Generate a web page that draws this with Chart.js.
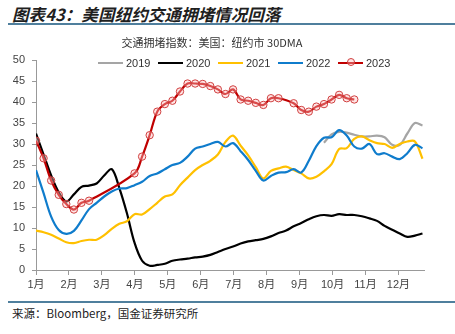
<!DOCTYPE html>
<html lang="zh">
<head>
<meta charset="UTF-8">
<title>美国纽约交通拥堵情况回落</title>
<script src="https://cdn.jsdelivr.net/npm/chart.js"></script>
<style>
  body { margin: 0; background: #fff; font-family: "Liberation Sans", "Noto Sans CJK SC", sans-serif; }
  #page { position: relative; width: 455px; height: 334px; overflow: hidden; }
  #title { position: absolute; left: 12px; top: 2px; font-size: 16.6px; font-weight: bold; font-style: italic; color: #1f1f1f; font-family: "Noto Sans CJK SC", sans-serif; white-space: nowrap; }
  .rule { position: absolute; left: 8px; right: 0; height: 2px; background: #4f7f9d; }
  #chartBox { position: absolute; left: 0; top: 28px; width: 455px; height: 268px; }
  #legend { position: absolute; left: 98px; top: 56px; display: flex; font-size: 11px; color: #333; }
  .item { width: 60px; display: flex; align-items: center; height: 14px; }
  .swatch { position: relative; width: 25px; height: 2.5px; margin-right: 3px; }
  .dot { position: absolute; left: 8.5px; top: -3.5px; width: 6px; height: 6px; border: 1px solid #d04040; border-radius: 50%; background: rgba(255, 190, 190, 0.4); }
  #source { position: absolute; left: 12px; top: 305px; font-size: 11.5px; color: #222; font-family: "Noto Sans CJK SC", sans-serif; white-space: nowrap; }
</style>
</head>
<body>
<div id="page">
  <div id="title">图表43：美国纽约交通拥堵情况回落</div>
  <div class="rule" style="top:23px"></div>
  <div id="chartBox"><canvas id="trafficChart"></canvas></div>
  <div id="legend"></div>
  <div class="rule" style="top:301px"></div>
  <div id="source">来源：Bloomberg，国金证券研究所</div>
</div>

<script>
// weekly index (0 = first week of Jan)
const weeks = Array.from({ length: 52 }, (_, i) => i);
const monthLabels = ['1月', '2月', '3月', '4月', '5月', '6月', '7月', '8月', '9月', '10月', '11月', '12月'];
const WEEKS_PER_MONTH = 52.18 / 12;

const years = ['2019', '2020', '2021', '2022', '2023'];
const colors = ['#a5a5a5', '#000000', '#ffc000', '#0f7ccc', '#c00000'];

const v2019 = [null, null, null, null, null, null, null, null, null, null,
  null, null, null, null, null, null, null, null, null, null,
  null, null, null, null, null, null, null, null, null, null,
  null, null, null, null, null, null, null, null, 30.3, 32.3,
  32.9, 32.7, 32.2, 31.8, 31.8, 32.0, 31.6, 29.8, 29.8, 32.5,
  35.0, 34.4];

const v2020 = [32.5, 27.5, 22.5, 18.5, 16.3, 18.0, 19.8, 20.1, 20.6, 22.5,
  24.0, 19.5, 13.5, 6.5, 2.2, 1.0, 1.2, 1.5, 2.2, 2.5,
  2.7, 3.0, 3.2, 3.6, 4.3, 5.0, 5.6, 6.3, 6.8, 7.1,
  7.4, 8.0, 8.8, 9.4, 10.4, 11.2, 12.1, 12.8, 13.1, 12.9,
  13.3, 13.1, 13.1, 12.8, 12.3, 11.7, 10.5, 9.6, 8.7, 7.9,
  8.2, 8.7];

const v2021 = [9.4, 9.0, 8.4, 7.5, 6.6, 6.4, 6.9, 7.2, 7.2, 8.3,
  9.8, 11.0, 11.6, 13.3, 13.2, 14.5, 16.0, 17.5, 18.0, 20.2,
  22.0, 23.8, 25.0, 26.0, 27.5, 30.5, 32.0, 29.6, 27.3, 24.5,
  21.8, 23.6, 24.2, 24.6, 23.8, 23.0, 21.8, 22.2, 23.5, 25.2,
  28.8, 29.0, 31.2, 31.8, 30.9, 30.2, 30.0, 29.1, 30.0, 30.6,
  30.6, 26.5];

const v2022 = [23.8, 18.3, 12.7, 9.5, 8.6, 9.3, 11.8, 14.5, 16.0, 17.5,
  18.7, 19.4, 19.5, 20.2, 21.0, 22.4, 23.0, 24.0, 25.0, 25.5,
  27.0, 28.9, 29.4, 30.0, 30.5, 29.4, 30.2, 28.3, 26.2, 23.6,
  21.3, 22.4, 23.2, 23.3, 24.0, 23.2, 26.0, 29.5, 31.5, 31.6,
  33.3, 32.0, 29.4, 28.9, 30.0, 27.6, 27.8, 27.0, 26.4, 27.8,
  29.8, 29.0];

const v2023 = [30.8, 26.6, 21.3, 17.9, 15.7, 14.4, 16.0, 16.5, null, null,
  null, null, null, 23.0, 27.0, 32.1, 37.7, 39.5, 40.3, 42.5,
  44.4, 44.4, 44.3, 43.8, 43.0, 41.9, 43.0, 40.6, 40.3, 39.8,
  39.3, 40.9, 40.9, null, 39.7, 38.1, 37.7, 38.9, 39.5, 40.6,
  41.7, 40.9, 40.6, null, null, null, null, null, null, null,
  null, null];

const seriesValues = [v2019, v2020, v2021, v2022, v2023];

// legend drawn as html so it can sit inside the plot like the original
const legendEl = document.getElementById('legend');
years.forEach((y, i) => {
  const item = document.createElement('div');
  item.className = 'item';
  const sw = document.createElement('span');
  sw.className = 'swatch';
  sw.style.background = colors[i];
  if (y === '2023') {
    const dot = document.createElement('span');
    dot.className = 'dot';
    sw.appendChild(dot);
  }
  item.appendChild(sw);
  item.appendChild(document.createTextNode(y));
  legendEl.appendChild(item);
});

const datasets = years.map((y, i) => {
  const isLast = y === '2023';
  return {
    label: y,
    data: weeks.map((w, k) => ({ x: w, y: seriesValues[i][k] })),
    borderColor: colors[i],
    borderWidth: 2.2,
    tension: 0.35,
    spanGaps: true,
    pointRadius: isLast ? 3.7 : 0,
    pointBorderWidth: 1,
    pointBorderColor: '#d04040',
    pointBackgroundColor: 'rgba(255, 190, 190, 0.4)',
    order: isLast ? 0 : 5 - i
  };
});

const tickFont = { family: '"Liberation Sans", "Noto Sans CJK SC", sans-serif', size: 11 };

new Chart(document.getElementById('trafficChart'), {
  type: 'line',
  data: { datasets: datasets },
  options: {
    responsive: true,
    maintainAspectRatio: false,
    animation: false,
    layout: { padding: { left: 0, right: 31, top: 0, bottom: 0 } },
    plugins: {
      legend: { display: false },
      tooltip: { enabled: false },
      title: {
        display: true,
        text: '交通拥堵指数：美国：纽约市 30DMA',
        color: '#333',
        font: { family: '"Noto Sans CJK SC", "Liberation Sans", sans-serif', size: 11, weight: 'normal' },
        padding: { top: 8.5, bottom: 10.3 }
      }
    },
    scales: {
      x: {
        type: 'linear',
        min: 0,
        max: 51.2,
        afterBuildTicks: scale => {
          scale.ticks = monthLabels.map((_, k) => ({ value: k * WEEKS_PER_MONTH }));
        },
        afterFit: scale => { scale.height = 26; },
        grid: { drawOnChartArea: false, drawTicks: true, tickLength: 5, color: '#999' },
        border: { display: true, color: '#999' },
        ticks: {
          autoSkip: false,
          maxRotation: 0,
          padding: 3,
          color: '#444',
          font: tickFont,
          callback: (v, i) => monthLabels[i]
        }
      },
      y: {
        min: 0,
        max: 50,
        afterFit: scale => { scale.width = 36; },
        grid: { drawOnChartArea: false, drawTicks: true, tickLength: 4, color: '#999' },
        border: { display: true, color: '#999' },
        ticks: { stepSize: 5, padding: 7, color: '#444', font: tickFont }
      }
    }
  }
});
</script>
</body>
</html>
